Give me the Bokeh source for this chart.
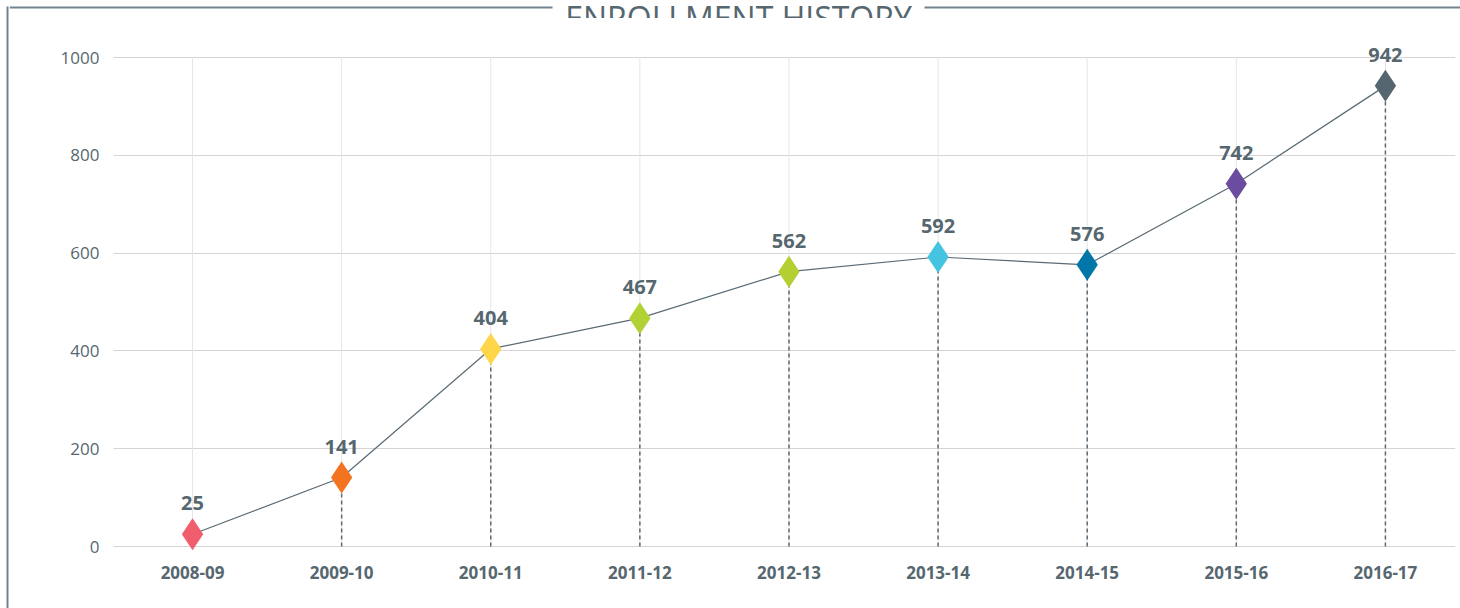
from bokeh.plotting import figure
from bokeh.layouts import row, column
from bokeh.models import (ColumnDataSource, LabelSet, Label, BoxAnnotation,
                          FixedTicker, Range1d)
from bokeh.core.properties import value
from bokeh.embed import file_html
from bokeh.resources import INLINE

# ---- data ----
years = ["2008-09", "2009-10", "2010-11", "2011-12", "2012-13",
         "2013-14", "2014-15", "2015-16", "2016-17"]
enrollment = [25, 141, 404, 467, 562, 592, 576, 742, 942]
marker_colors = ["#f05d6c", "#f37321", "#ffd64a", "#b1d135", "#b4cf32",
                 "#44c4e0", "#0077a8", "#6a4ca0", "#556670"]
y_ticks = [0, 200, 400, 600, 800, 1000]
title_text = "ENROLLMENT HISTORY"

TEXT = "#56676f"
LINE = "#5a6a74"
FRAME = "#72838e"

W, H = 1460, 608
STRIP_W, TOP_H = 9, 18


def blank(width, height):
    f = figure(width=width, height=height, output_backend="svg",
               toolbar_location=None, x_axis_type=None, y_axis_type=None,
               x_range=Range1d(0, width), y_range=Range1d(height, 0),
               min_border=0, frame_align=False)
    f.grid.visible = False
    f.outline_line_color = None
    f.background_fill_color = "white"
    f.border_fill_color = "white"
    return f


# left frame strip
left = blank(STRIP_W, H)
left.add_layout(BoxAnnotation(left=6, right=8, top=6, bottom=H,
                              fill_color=FRAME, fill_alpha=1, line_alpha=0))

# top frame strip with title
top = blank(W - STRIP_W, TOP_H)
top.add_layout(BoxAnnotation(left=0, right=543, top=6, bottom=8,
                             fill_color=FRAME, fill_alpha=1, line_alpha=0))
top.add_layout(BoxAnnotation(left=915, right=W - STRIP_W, top=6, bottom=8,
                             fill_color=FRAME, fill_alpha=1, line_alpha=0))
top.add_layout(Label(x=729, y=17, text=title_text, text_align="center",
                     text_baseline="alphabetic", text_font="Open Sans",
                     text_font_size="32px", text_color=TEXT))

# main chart
xs = list(range(len(years)))
src = ColumnDataSource(dict(
    x=xs, y=enrollment, label=[str(v) for v in enrollment], color=marker_colors,
    top=[y_ticks[-1]] * len(xs), zero=[y_ticks[0]] * len(xs)))

p = figure(width=W - STRIP_W, height=H - TOP_H, output_backend="svg",
           toolbar_location=None, frame_align=False,
           x_range=Range1d(-0.53, 8.47), y_range=Range1d(-14.3, 1030.7),
           min_border_left=104, min_border_right=5, min_border_top=24,
           min_border_bottom=55)
p.outline_line_color = None
p.background_fill_color = "white"
p.border_fill_color = "white"

p.xgrid.grid_line_color = None
p.ygrid.ticker = FixedTicker(ticks=y_ticks)
p.ygrid.grid_line_color = "#d4d4d4"
p.ygrid.grid_line_width = 1

# vertical grid lines (0..1000 only)
p.segment(x0="x", y0="zero", x1="x", y1="top", source=src,
          line_color="#e6e6e6", line_width=1)

# dashed drop lines
p.segment(x0="x", y0="zero", x1="x", y1="y", source=src,
          line_color=LINE, line_width=1.5, line_dash="4 3")

# main line
p.line(x="x", y="y", source=src, line_color=LINE, line_width=1.2)

# markers
p.scatter(x="x", y="y", source=src, marker="diamond", size=32,
          fill_color="color", line_color="color", line_width=0)

# value labels
p.add_layout(LabelSet(x="x", y="y", text="label", source=src, y_offset=24,
                      text_align="center", text_baseline="alphabetic",
                      text_font=value("Open Sans"), text_font_style="bold",
                      text_font_size="20px", text_color=TEXT))

# axes
p.xaxis.ticker = FixedTicker(ticks=xs)
p.xaxis.major_label_overrides = {i: y for i, y in enumerate(years)}
p.yaxis.ticker = FixedTicker(ticks=y_ticks)
for ax in (p.xaxis[0], p.yaxis[0]):
    ax.axis_line_color = None
    ax.major_tick_line_color = None
    ax.minor_tick_line_color = None
    ax.major_label_text_font = "Open Sans"
    ax.major_label_text_color = TEXT
p.xaxis.major_label_text_font_style = "bold"
p.xaxis.major_label_text_font_size = "17px"
p.xaxis.major_label_standoff = 6
p.yaxis.major_label_text_font_size = "17px"
p.yaxis.major_label_standoff = 8

layout = row(left, column(top, p, spacing=0), spacing=0)

open("out.html", "w").write(file_html(layout, INLINE))
